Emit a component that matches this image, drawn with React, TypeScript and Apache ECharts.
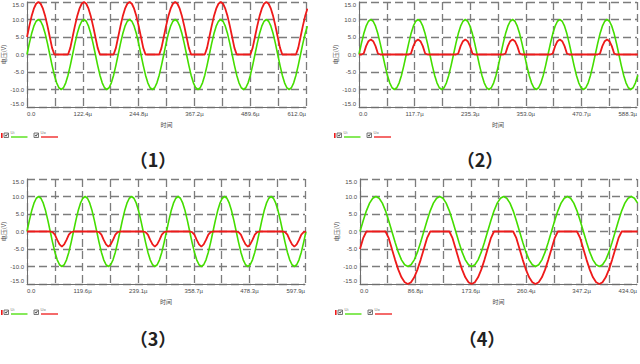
import React, { useEffect, useRef } from 'react';
import * as echarts from 'echarts';

// sampling step of all series, in microseconds
const STEP_US = 5;

// Panel (1): Ui and Uo, 0 .. 612.0 µs
const UI_1 = [
  0, 3.1, 5.9, 8.1, 9.5, 10, 9.5, 8.1, 5.9, 3.1, 0, -3.1, -5.9, -8.1, -9.5, -10, -9.5, -8.1, -5.9, -3.1,
  0, 3.1, 5.9, 8.1, 9.5, 10, 9.5, 8.1, 5.9, 3.1, 0, -3.1, -5.9, -8.1, -9.5, -10, -9.5, -8.1, -5.9, -3.1,
  0, 3.1, 5.9, 8.1, 9.5, 10, 9.5, 8.1, 5.9, 3.1, 0, -3.1, -5.9, -8.1, -9.5, -10, -9.5, -8.1, -5.9, -3.1,
  0, 3.1, 5.9, 8.1, 9.5, 10, 9.5, 8.1, 5.9, 3.1, 0, -3.1, -5.9, -8.1, -9.5, -10, -9.5, -8.1, -5.9, -3.1,
  0, 3.1, 5.9, 8.1, 9.5, 10, 9.5, 8.1, 5.9, 3.1, 0, -3.1, -5.9, -8.1, -9.5, -10, -9.5, -8.1, -5.9, -3.1,
  0, 3.1, 5.9, 8.1, 9.5, 10, 9.5, 8.1, 5.9, 3.1, 0, -3.1, -5.9, -8.1, -9.5, -10, -9.5, -8.1, -5.9, -3.1,
  0, 3.1, 5.9, 8.1,
];
const UO_1 = [
  5, 8.1, 10.9, 13.1, 14.5, 15, 14.5, 13.1, 10.9, 8.1, 5, 1.9, 0, 0, 0, 0, 0, 0, 0, 1.9,
  5, 8.1, 10.9, 13.1, 14.5, 15, 14.5, 13.1, 10.9, 8.1, 5, 1.9, 0, 0, 0, 0, 0, 0, 0, 1.9,
  5, 8.1, 10.9, 13.1, 14.5, 15, 14.5, 13.1, 10.9, 8.1, 5, 1.9, 0, 0, 0, 0, 0, 0, 0, 1.9,
  5, 8.1, 10.9, 13.1, 14.5, 15, 14.5, 13.1, 10.9, 8.1, 5, 1.9, 0, 0, 0, 0, 0, 0, 0, 1.9,
  5, 8.1, 10.9, 13.1, 14.5, 15, 14.5, 13.1, 10.9, 8.1, 5, 1.9, 0, 0, 0, 0, 0, 0, 0, 1.9,
  5, 8.1, 10.9, 13.1, 14.5, 15, 14.5, 13.1, 10.9, 8.1, 5, 1.9, 0, 0, 0, 0, 0, 0, 0, 1.9,
  5, 8.1, 10.9, 13.1,
];

// Panel (2): 0 .. 588.3 µs
const UI_2 = [
  0, 3.1, 5.9, 8.1, 9.5, 10, 9.5, 8.1, 5.9, 3.1, 0, -3.1, -5.9, -8.1, -9.5, -10, -9.5, -8.1, -5.9, -3.1,
  0, 3.1, 5.9, 8.1, 9.5, 10, 9.5, 8.1, 5.9, 3.1, 0, -3.1, -5.9, -8.1, -9.5, -10, -9.5, -8.1, -5.9, -3.1,
  0, 3.1, 5.9, 8.1, 9.5, 10, 9.5, 8.1, 5.9, 3.1, 0, -3.1, -5.9, -8.1, -9.5, -10, -9.5, -8.1, -5.9, -3.1,
  0, 3.1, 5.9, 8.1, 9.5, 10, 9.5, 8.1, 5.9, 3.1, 0, -3.1, -5.9, -8.1, -9.5, -10, -9.5, -8.1, -5.9, -3.1,
  0, 3.1, 5.9, 8.1, 9.5, 10, 9.5, 8.1, 5.9, 3.1, 0, -3.1, -5.9, -8.1, -9.5, -10, -9.5, -8.1, -5.9, -3.1,
  0, 3.1, 5.9, 8.1, 9.5, 10, 9.5, 8.1, 5.9, 3.1, 0, -3.1, -5.9, -8.1, -9.5, -10, -9.5, -8.1, -5.9,
];
const UO_2 = [
  0, 0, 0.3, 2.4, 3.8, 4.3, 3.8, 2.4, 0.3, 0, 0, 0, 0, 0, 0, 0, 0, 0, 0, 0,
  0, 0, 0.3, 2.4, 3.8, 4.3, 3.8, 2.4, 0.3, 0, 0, 0, 0, 0, 0, 0, 0, 0, 0, 0,
  0, 0, 0.3, 2.4, 3.8, 4.3, 3.8, 2.4, 0.3, 0, 0, 0, 0, 0, 0, 0, 0, 0, 0, 0,
  0, 0, 0.3, 2.4, 3.8, 4.3, 3.8, 2.4, 0.3, 0, 0, 0, 0, 0, 0, 0, 0, 0, 0, 0,
  0, 0, 0.3, 2.4, 3.8, 4.3, 3.8, 2.4, 0.3, 0, 0, 0, 0, 0, 0, 0, 0, 0, 0, 0,
  0, 0, 0.3, 2.4, 3.8, 4.3, 3.8, 2.4, 0.3, 0, 0, 0, 0, 0, 0, 0, 0, 0, 0,
];

// Panel (3): 0 .. 597.9 µs
const UI_3 = [
  0, 3.1, 5.9, 8.1, 9.5, 10, 9.5, 8.1, 5.9, 3.1, 0, -3.1, -5.9, -8.1, -9.5, -10, -9.5, -8.1, -5.9, -3.1,
  0, 3.1, 5.9, 8.1, 9.5, 10, 9.5, 8.1, 5.9, 3.1, 0, -3.1, -5.9, -8.1, -9.5, -10, -9.5, -8.1, -5.9, -3.1,
  0, 3.1, 5.9, 8.1, 9.5, 10, 9.5, 8.1, 5.9, 3.1, 0, -3.1, -5.9, -8.1, -9.5, -10, -9.5, -8.1, -5.9, -3.1,
  0, 3.1, 5.9, 8.1, 9.5, 10, 9.5, 8.1, 5.9, 3.1, 0, -3.1, -5.9, -8.1, -9.5, -10, -9.5, -8.1, -5.9, -3.1,
  0, 3.1, 5.9, 8.1, 9.5, 10, 9.5, 8.1, 5.9, 3.1, 0, -3.1, -5.9, -8.1, -9.5, -10, -9.5, -8.1, -5.9, -3.1,
  0, 3.1, 5.9, 8.1, 9.5, 10, 9.5, 8.1, 5.9, 3.1, 0, -3.1, -5.9, -8.1, -9.5, -10, -9.5, -8.1, -5.9, -3.1,
  0,
];
const UO_3 = [
  0, 0, 0, 0, 0, 0, 0, 0, 0, 0, 0, -0.2, -0.9, -2.4, -3.7, -4.3, -3.7, -2.4, -0.9, -0.2,
  0, 0, 0, 0, 0, 0, 0, 0, 0, 0, 0, -0.2, -0.9, -2.4, -3.7, -4.3, -3.7, -2.4, -0.9, -0.2,
  0, 0, 0, 0, 0, 0, 0, 0, 0, 0, 0, -0.2, -0.9, -2.4, -3.7, -4.3, -3.7, -2.4, -0.9, -0.2,
  0, 0, 0, 0, 0, 0, 0, 0, 0, 0, 0, -0.2, -0.9, -2.4, -3.7, -4.3, -3.7, -2.4, -0.9, -0.2,
  0, 0, 0, 0, 0, 0, 0, 0, 0, 0, 0, -0.2, -0.9, -2.4, -3.7, -4.3, -3.7, -2.4, -0.9, -0.2,
  0, 0, 0, 0, 0, 0, 0, 0, 0, 0, 0, -0.2, -0.9, -2.4, -3.7, -4.3, -3.7, -2.4, -0.9, -0.2,
  0,
];

// Panel (4): 0 .. 434.0 µs
const UI_4 = [
  0, 3.1, 5.9, 8.1, 9.5, 10, 9.5, 8.1, 5.9, 3.1, 0, -3.1, -5.9, -8.1, -9.5, -10, -9.5, -8.1, -5.9, -3.1,
  0, 3.1, 5.9, 8.1, 9.5, 10, 9.5, 8.1, 5.9, 3.1, 0, -3.1, -5.9, -8.1, -9.5, -10, -9.5, -8.1, -5.9, -3.1,
  0, 3.1, 5.9, 8.1, 9.5, 10, 9.5, 8.1, 5.9, 3.1, 0, -3.1, -5.9, -8.1, -9.5, -10, -9.5, -8.1, -5.9, -3.1,
  0, 3.1, 5.9, 8.1, 9.5, 10, 9.5, 8.1, 5.9, 3.1, 0, -3.1, -5.9, -8.1, -9.5, -10, -9.5, -8.1, -5.9, -3.1,
  0, 3.1, 5.9, 8.1, 9.5, 10, 9.5, 8.1,
];
const UO_4 = [
  -5, -1.9, 0, 0, 0, 0, 0, 0, 0, -1.9, -5, -8.1, -10.9, -13.1, -14.5, -15, -14.5, -13.1, -10.9, -8.1,
  -5, -1.9, 0, 0, 0, 0, 0, 0, 0, -1.9, -5, -8.1, -10.9, -13.1, -14.5, -15, -14.5, -13.1, -10.9, -8.1,
  -5, -1.9, 0, 0, 0, 0, 0, 0, 0, -1.9, -5, -8.1, -10.9, -13.1, -14.5, -15, -14.5, -13.1, -10.9, -8.1,
  -5, -1.9, 0, 0, 0, 0, 0, 0, 0, -1.9, -5, -8.1, -10.9, -13.1, -14.5, -15, -14.5, -13.1, -10.9, -8.1,
  -5, -1.9, 0, 0, 0, 0, 0, 0,
];

// time axis extents (µs) and tick labels
const X_MAX = [612.0, 588.3, 597.9, 434.0];
const X_LABELS_1 = ['0.0', '122.4µ', '244.8µ', '367.2µ', '489.6µ', '612.0µ'];
const X_LABELS_2 = ['0.0', '117.7µ', '235.3µ', '353.0µ', '470.7µ', '588.3µ'];
const X_LABELS_3 = ['0.0', '119.6µ', '239.1µ', '358.7µ', '478.3µ', '597.9µ'];
const X_LABELS_4 = ['0.0', '86.8µ', '173.6µ', '260.4µ', '347.2µ', '434.0µ'];
const Y_MIN = -15;
const Y_MAX = 15;
const Y_STEP = 5;

const SERIES_UI = [UI_1, UI_2, UI_3, UI_4];
const SERIES_UO = [UO_1, UO_2, UO_3, UO_4];
const X_LABELS = [X_LABELS_1, X_LABELS_2, X_LABELS_3, X_LABELS_4];
const TITLES = ['（1）', '（2）', '（3）', '（4）'];
const LEGEND_NAMES = ['Ui', 'Uo'];

const GREEN = '#44dd00';
const RED = '#ee1a1a';
const GRID_COLOR = '#7c7c7c';
const LABEL_COLOR = '#4a4a4a';

const LAYOUT = [
  { left: 27, top: 2, width: 279, height: 105, legendX: 0, legendY: 137, titleX: 153, titleY: 159 },
  { left: 359, top: 2, width: 278, height: 105, legendX: 333, legendY: 137, titleX: 480, titleY: 159 },
  { left: 27, top: 179, width: 278, height: 105, legendX: 0, legendY: 314, titleX: 153, titleY: 338 },
  { left: 360, top: 179, width: 277, height: 105, legendX: 334, legendY: 314, titleX: 482, titleY: 338 },
];

function legendGraphics(x0: number, y0: number) {
  const els: any[] = [];
  els.push({ type: 'rect', shape: { x: x0 + 1, y: y0 - 4, width: 1.6, height: 5 }, style: { fill: RED } });
  const items = [
    { bx: 4, tx: 10.5, lx1: 11, lx2: 27.5, color: GREEN, name: LEGEND_NAMES[0] },
    { bx: 34, tx: 40.5, lx1: 41, lx2: 58, color: RED, name: LEGEND_NAMES[1] },
  ];
  for (const it of items) {
    els.push({
      type: 'rect',
      shape: { x: x0 + it.bx, y: y0 - 4, width: 4.5, height: 4.5 },
      style: { fill: '#f4f4f4', stroke: '#555', lineWidth: 0.8 },
    });
    els.push({
      type: 'polyline',
      shape: { points: [[x0 + it.bx + 1, y0 - 2], [x0 + it.bx + 2, y0 - 0.8], [x0 + it.bx + 3.6, y0 - 3.2]] },
      style: { stroke: '#333', lineWidth: 0.8, fill: 'none' },
    });
    els.push({
      type: 'text',
      x: x0 + it.tx,
      y: y0 - 6.5,
      style: { text: it.name, fontSize: 4, fill: '#777', fontFamily: 'Liberation Sans' },
    });
    els.push({
      type: 'line',
      shape: { x1: x0 + it.lx1, y1: y0, x2: x0 + it.lx2, y2: y0 },
      style: { stroke: it.color, lineWidth: 1.3 },
    });
  }
  return els;
}

export default function App() {
  const ref = useRef<HTMLDivElement>(null);

  useEffect(() => {
    if (!ref.current) return;
    const chart = echarts.init(ref.current, null, { renderer: 'svg' });

    const dashed = { color: GRID_COLOR, width: 1.3, type: [8, 4] as any };
    const grids: any[] = [];
    const xAxes: any[] = [];
    const yAxes: any[] = [];
    const series: any[] = [];
    const graphics: any[] = [];

    LAYOUT.forEach((L, i) => {
      grids.push({ left: L.left, top: L.top, width: L.width, height: L.height, containLabel: false, outerBoundsMode: 'none' });
      const labels = X_LABELS[i];
      xAxes.push({
        type: 'value',
        gridIndex: i,
        min: 0,
        max: X_MAX[i],
        interval: X_MAX[i] / 5,
        name: '时间',
        nameLocation: 'middle',
        nameGap: 14,
        nameTextStyle: { fontSize: 6, color: LABEL_COLOR, fontFamily: 'Noto Sans CJK SC' },
        axisLine: { show: true, onZero: false, lineStyle: { color: '#6e6e6e', width: 1 } },
        axisTick: { show: false },
        axisLabel: {
          fontSize: 6,
          color: LABEL_COLOR,
          fontFamily: 'Liberation Sans',
          margin: 4,
          alignMinLabel: 'left',
          alignMaxLabel: 'right',
          formatter: (_v: number, idx: number) => labels[idx] ?? '',
        },
        splitLine: { show: true, lineStyle: dashed },
        minorTick: { show: false, splitNumber: 2 },
        minorSplitLine: { show: true, lineStyle: dashed },
      });
      yAxes.push({
        type: 'value',
        gridIndex: i,
        min: Y_MIN,
        max: Y_MAX,
        interval: Y_STEP,
        name: '电压(V)',
        nameLocation: 'middle',
        nameGap: 16,
        nameTextStyle: { fontSize: 6, color: LABEL_COLOR, fontFamily: 'Noto Sans CJK SC' },
        axisLine: { show: true, onZero: false, lineStyle: { color: '#6e6e6e', width: 1 } },
        axisTick: { show: false },
        axisLabel: {
          fontSize: 6,
          color: LABEL_COLOR,
          fontFamily: 'Liberation Sans',
          margin: 3,
          verticalAlignMaxLabel: 'top',
          verticalAlignMinLabel: 'bottom',
          formatter: (v: number) => v.toFixed(1),
        },
        splitLine: { show: true, lineStyle: dashed },
      });
      series.push({
        type: 'line',
        name: LEGEND_NAMES[0],
        xAxisIndex: i,
        yAxisIndex: i,
        data: SERIES_UI[i].map((v, k) => [k * STEP_US, v]),
        showSymbol: false,
        clip: true,
        lineStyle: { color: GREEN, width: 1.6 },
        itemStyle: { color: GREEN },
        z: 3,
      });
      series.push({
        type: 'line',
        name: LEGEND_NAMES[1],
        xAxisIndex: i,
        yAxisIndex: i,
        data: SERIES_UO[i].map((v, k) => [k * STEP_US, v]),
        showSymbol: false,
        clip: true,
        lineStyle: { color: RED, width: 1.8 },
        itemStyle: { color: RED },
        z: 4,
      });
      graphics.push(...legendGraphics(L.legendX, L.legendY));
      graphics.push({
        type: 'text',
        x: L.titleX,
        y: L.titleY,
        style: {
          text: TITLES[i],
          fontSize: 18,
          fontWeight: 'bold',
          fill: '#222',
          fontFamily: 'Noto Sans CJK SC',
          textAlign: 'center',
          textVerticalAlign: 'middle',
        },
      });
    });

    chart.setOption({
      animation: false,
      backgroundColor: '#ffffff',
      grid: grids,
      xAxis: xAxes,
      yAxis: yAxes,
      series,
      graphic: graphics,
    });

    return () => chart.dispose();
  }, []);

  return <div ref={ref} style={{ position: 'fixed', left: 0, top: 0, width: 640, height: 364 }} />;
}
